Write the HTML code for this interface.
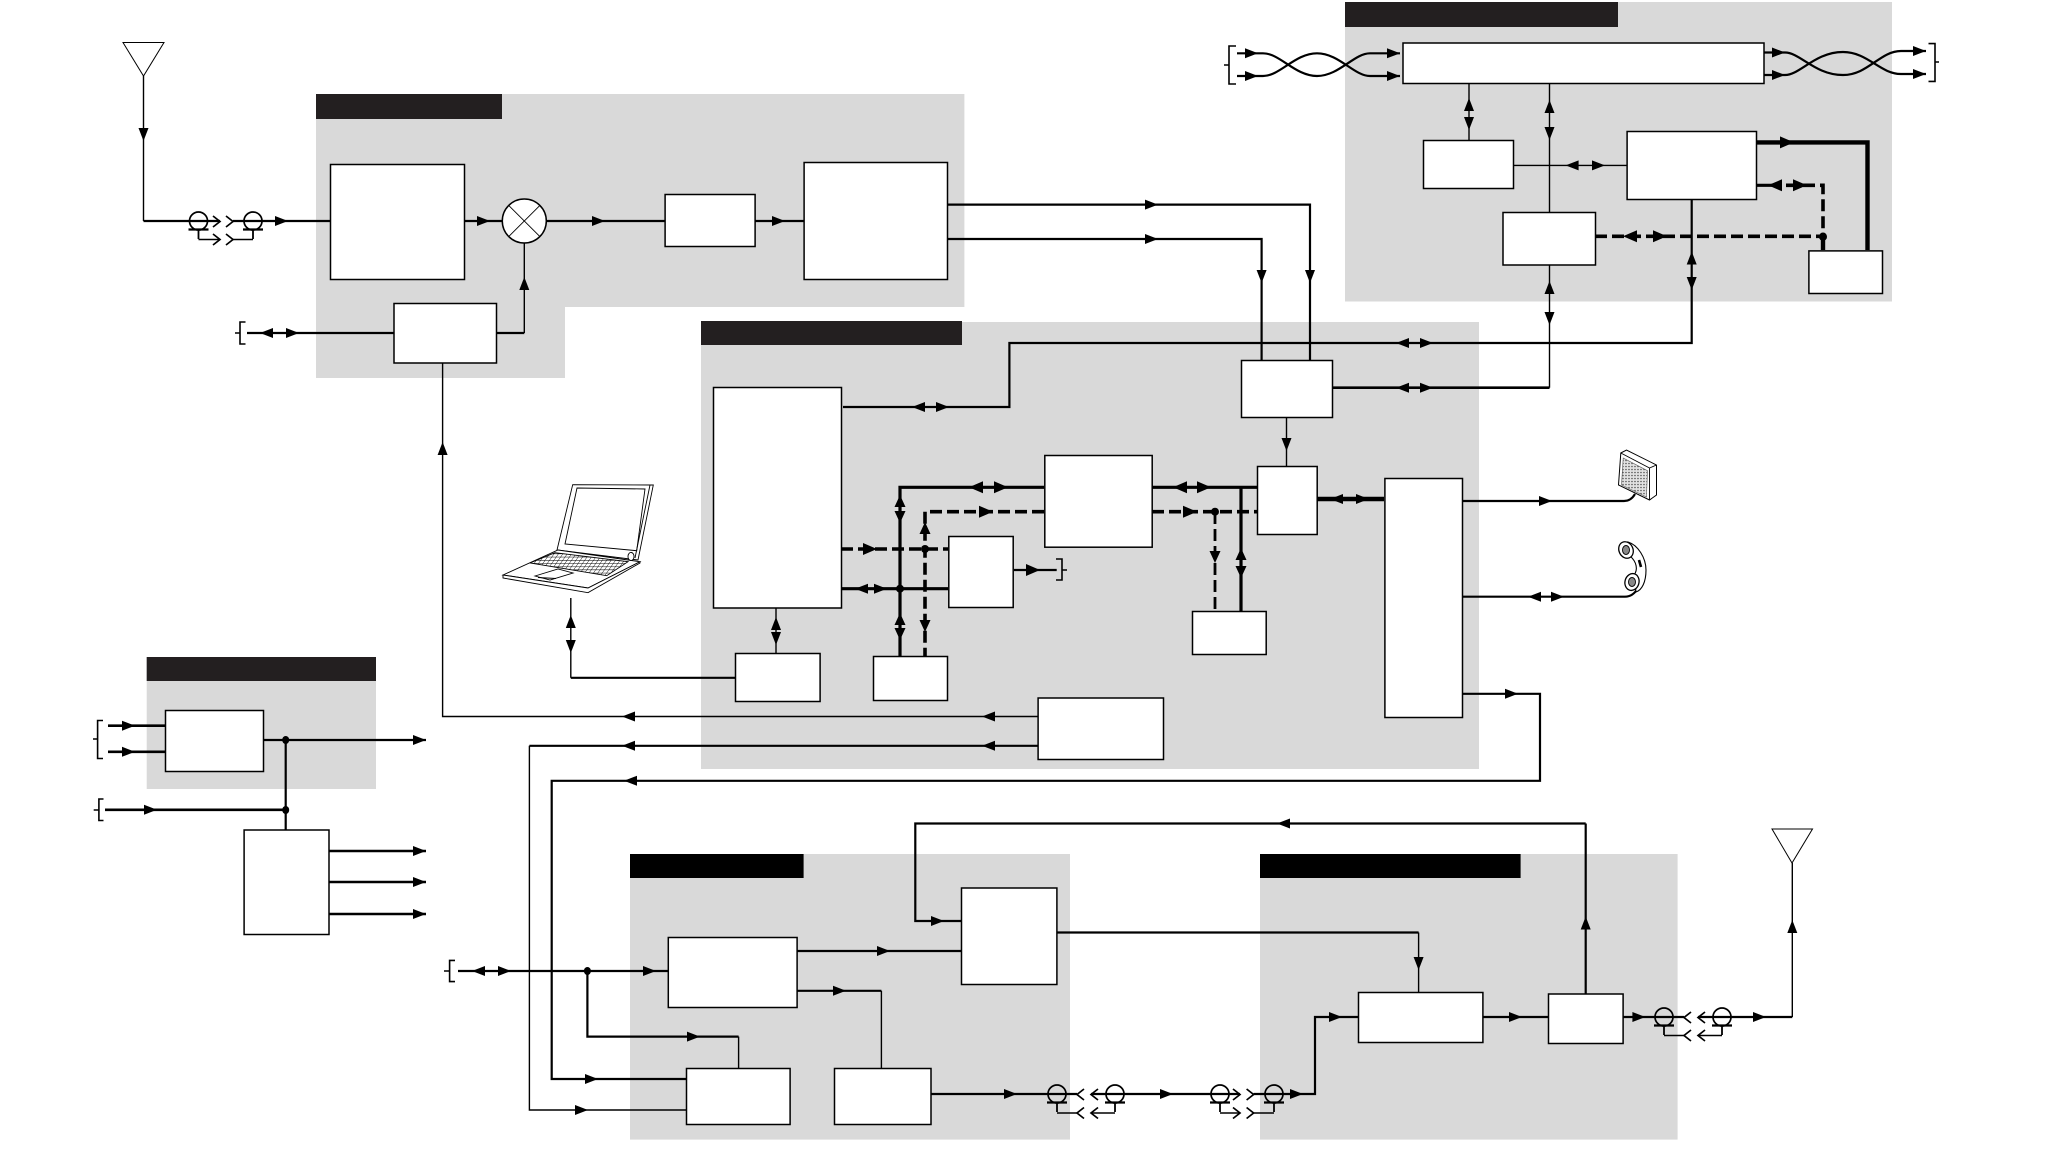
<!DOCTYPE html>
<html>
<head>
<meta charset="utf-8">
<title>Block diagram</title>
<style>
html,body{margin:0;padding:0;background:#fff}
svg{display:block}
.b{fill:#fff;stroke:#000;stroke-width:1.5;transform:translate(.5px,.5px)}
.t{fill:none;stroke:#000;stroke-width:1.4}
.m{fill:none;stroke:#000;stroke-width:2.2}
.q{fill:none;stroke:#000;stroke-width:2.6}
.k{fill:none;stroke:#000;stroke-width:3.2}
.x{fill:none;stroke:#000;stroke-width:4.4}
.d{fill:none;stroke:#000;stroke-width:3.6;stroke-dasharray:12 5}
.n{fill:none;stroke:#000;stroke-width:.9}
.c{fill:none;stroke:#000;stroke-width:1.6}
</style>
</head>
<body>
<svg xmlns="http://www.w3.org/2000/svg" width="2052" height="1163" viewBox="0 0 2052 1163">
<defs>
<polygon id="r" points="-13,-5 0,0 -13,5"/>
<polygon id="l" points="13,-5 0,0 13,5"/>
<polygon id="u" points="-5,13 0,0 5,13"/>
<polygon id="d" points="-5,-13 0,0 5,-13"/>
<polygon id="rb" points="-14,-6 0,0 -14,6"/>
<polygon id="lb" points="14,-6 0,0 14,6"/>
<polygon id="ub" points="-5.5,12 0,0 5.5,12"/>
<polygon id="db" points="-5.5,-12 0,0 5.5,-12"/>
<g id="cq"><circle r="9" fill="none" stroke="#000" stroke-width="1.7"/><path d="M-10,8.5H10" stroke="#000" stroke-width="2.2" fill="none"/><path d="M0,8.5V18" stroke="#000" stroke-width="1.8" fill="none"/></g>
<path id="cg" d="M-7,-5.5L0,0L-7,5.5" fill="none" stroke="#000" stroke-width="1.7"/>
<path id="cv" d="M7,-5.5L0,0L7,5.5" fill="none" stroke="#000" stroke-width="1.7"/>
<pattern id="dots" width="3" height="3" patternUnits="userSpaceOnUse"><rect width="3" height="3" fill="#e2e2e2"/><circle cx="1.5" cy="1.5" r=".8" fill="#555"/></pattern>
<pattern id="keys" width="4.4" height="3.2" patternUnits="userSpaceOnUse" patternTransform="skewX(-35)"><rect width="4.4" height="3.2" fill="#fff"/><path d="M0,0H4.4M0,0V3.2" stroke="#000" stroke-width="1"/></pattern>
</defs>

<!-- regions -->
<path d="M316,94H964.4V307H565V378H316Z" fill="#d9d9d9"/>
<rect x="701" y="322" width="778" height="447" fill="#d9d9d9"/>
<rect x="1345" y="2" width="547" height="299.5" fill="#d9d9d9"/>
<rect x="146.7" y="657" width="229.3" height="132" fill="#d9d9d9"/>
<rect x="630" y="854" width="440" height="285.6" fill="#d9d9d9"/>
<rect x="1260" y="854" width="417.6" height="285.6" fill="#d9d9d9"/>
<!-- title bars -->
<rect x="316" y="94" width="186" height="25" fill="#231f20"/>
<rect x="701" y="321" width="261" height="24" fill="#231f20"/>
<rect x="1345" y="2" width="273" height="25" fill="#231f20"/>
<rect x="146.7" y="657" width="229.3" height="24" fill="#231f20"/>
<rect x="630" y="854" width="173.6" height="24" fill="#000"/>
<rect x="1260" y="854" width="260.6" height="24" fill="#000"/>

<!-- antenna 1 -->
<polygon points="123,42.5 164,42.5 143.5,76" fill="#fff" stroke="#000" stroke-width="1"/>
<path class="t" d="M143.5,76V221"/>
<use href="#d" x="143.5" y="141"/>
<path class="m" d="M143.5,221H220M233,221H331"/>
<use href="#cq" x="198.5" y="221"/><use href="#cq" x="253" y="221"/>
<use href="#cg" x="220" y="221.5"/><use href="#cg" x="233" y="221.5"/>
<use href="#cg" x="220" y="239.5"/><use href="#cg" x="233" y="239.5"/>
<path class="c" d="M198.5,239.5H220M233,239.5H253"/>
<use href="#r" x="288" y="221"/>

<!-- region 1 -->
<path class="m" d="M464,221H502"/><use href="#r" x="490" y="221"/>
<path class="m" d="M546,221H665"/><use href="#r" x="605" y="221"/>
<path class="m" d="M754,221H804"/><use href="#r" x="785" y="221"/>
<circle cx="524.3" cy="221" r="22" class="b" style="transform:none"/>
<path class="n" d="M508.7,205.4L539.9,236.6M539.9,205.4L508.7,236.6"/>
<path class="m" d="M496,333H524.3"/><path class="t" d="M524.3,333V243"/><use href="#u" x="524.3" y="277"/>
<path class="m" d="M247,333H394"/>
<use href="#l" x="260" y="333"/><use href="#r" x="299" y="333"/>
<path class="c" d="M245.5,322H240V344H245.5M240,333H235"/>
<path class="t" d="M442.6,362V716.5H1038"/><use href="#u" x="442.6" y="442"/>
<use href="#l" x="622" y="716.5"/><use href="#l" x="982" y="716.5"/>
<path class="m" d="M947,204.6H1310V360"/><path class="m" d="M947,239H1261.6V360"/>
<use href="#r" x="1158" y="204.6"/><use href="#r" x="1158" y="239"/>
<use href="#d" x="1261.6" y="283"/><use href="#d" x="1310" y="283"/>
<rect class="b" x="330" y="164" width="134" height="115"/>
<rect class="b" x="664.6" y="194" width="90" height="52"/>
<rect class="b" x="803.6" y="162" width="143.4" height="117"/>
<rect class="b" x="393.5" y="303" width="102.5" height="59.5"/>

<!-- region 3 top -->
<path class="c" d="M1236,46H1229V84H1236M1229,65H1224"/>
<path class="m" d="M1237,53.3H1263C1280,53.3 1295,76 1317,76C1339,76 1354,53.3 1370,53.3H1400"/>
<path class="m" d="M1237,76H1263C1280,76 1295,53.3 1317,53.3C1339,53.3 1354,76 1370,76H1400"/>
<use href="#r" x="1258" y="53.3"/><use href="#r" x="1258" y="76"/>
<use href="#r" x="1400" y="53.3"/><use href="#r" x="1400" y="76"/>
<path class="m" d="M1763.5,52.5H1785C1800,52.5 1815,75 1843,75C1868,75 1880,51 1901,51H1926"/>
<path class="m" d="M1763.5,75H1785C1800,75 1815,52 1843,52C1868,52 1880,74 1901,74H1926"/>
<use href="#r" x="1785" y="52.5"/><use href="#r" x="1785" y="75"/>
<use href="#r" x="1926" y="51"/><use href="#r" x="1926" y="74"/>
<path class="c" d="M1928.5,43.6H1935V81.4H1928.5M1935,62H1939"/>

<path class="t" d="M1469,83V140"/><use href="#u" x="1469" y="98"/><use href="#d" x="1469" y="130"/>
<path class="t" d="M1549.5,83V212"/><use href="#u" x="1549.5" y="100"/><use href="#d" x="1549.5" y="140"/>
<path class="t" d="M1513,165.4H1627"/><use href="#l" x="1565.6" y="165.4"/><use href="#r" x="1605" y="165.4"/>
<path class="x" d="M1756,142.4H1867.5V250"/><use href="#rb" x="1794" y="142.4"/>
<path class="k" d="M1756,185.3H1780"/>
<path class="d" d="M1786,185.3H1823V236"/>
<use href="#lb" x="1768" y="185.3"/><use href="#rb" x="1807" y="185.3"/>
<path class="d" d="M1595,236.3H1823"/>
<use href="#lb" x="1623" y="236.3"/><use href="#rb" x="1667" y="236.3"/>
<path class="x" d="M1823,237V250"/><ellipse cx="1823" cy="236.7" rx="4" ry="4.2" fill="#000"/>
<path class="m" d="M1691.7,199V343H1009.4V407H843"/>
<use href="#u" x="1691.7" y="251.5"/><use href="#d" x="1691.7" y="290"/>
<use href="#l" x="1396" y="343"/><use href="#r" x="1433" y="343"/>
<use href="#l" x="912" y="407"/><use href="#r" x="949" y="407"/>
<path class="t" d="M1549.5,264.5V387.7"/>
<path class="q" d="M1332,387.7H1549.5"/>
<use href="#u" x="1549.5" y="281"/><use href="#d" x="1549.5" y="325"/>
<use href="#l" x="1396" y="387.7"/><use href="#r" x="1433" y="387.7"/>
<rect class="b" x="1402.5" y="42.5" width="361" height="40.5"/>
<rect class="b" x="1423" y="140" width="90" height="48"/>
<rect class="b" x="1502.5" y="212" width="92.5" height="52.5"/>
<rect class="b" x="1626.6" y="131" width="129.4" height="68"/>
<rect class="b" x="1808.4" y="250.4" width="73.6" height="42.6"/>

<!-- region 2 -->
<path class="k" d="M1044,487.3H900V656"/>
<use href="#lb" x="969" y="487.3"/><use href="#rb" x="1008" y="487.3"/>
<use href="#ub" x="900" y="495"/><use href="#db" x="900" y="523"/>
<use href="#ub" x="900" y="613"/><use href="#db" x="900" y="640"/>
<path class="d" d="M1044,511.7H925V656"/>
<use href="#rb" x="993" y="511.7"/><use href="#ub" x="925" y="522"/><use href="#db" x="925" y="632"/>
<path class="d" d="M841,549H948"/><use href="#rb" x="877" y="549"/>
<circle cx="925" cy="549" r="4" fill="#000"/>
<path class="k" d="M841,588.7H948"/>
<use href="#l" x="855" y="588.7"/><use href="#r" x="887" y="588.7"/>
<circle cx="900" cy="588.7" r="4" fill="#000"/>
<path class="m" d="M1014,570H1056.7"/><use href="#rb" x="1040" y="570"/>
<path class="c" d="M1056,559H1062V580H1056M1062,570H1067"/>
<path class="k" d="M1152,487.3H1257M1241,487.3V611"/>
<use href="#lb" x="1173" y="487.3"/><use href="#rb" x="1211" y="487.3"/>
<use href="#ub" x="1241" y="548"/><use href="#db" x="1241" y="578"/>
<path class="d" d="M1152,511.7H1257"/><use href="#rb" x="1197" y="511.7"/>
<circle cx="1215" cy="511.7" r="4" fill="#000"/>
<path class="d" d="M1215,512V611" style="stroke-width:2.8"/><use href="#db" x="1215" y="563"/>
<path class="t" d="M1286.5,417V466"/><use href="#d" x="1286.5" y="451"/>
<path class="x" d="M1317,499H1384"/><use href="#l" x="1330" y="499"/><use href="#r" x="1369" y="499"/>
<path class="m" d="M1462,501H1624Q1631,501 1635,494"/><use href="#r" x="1552" y="501"/>
<path class="m" d="M1462,596.7H1625Q1633,596.7 1638,588"/>
<use href="#l" x="1528" y="596.7"/><use href="#r" x="1564" y="596.7"/>
<path class="t" d="M776,607.5V653"/><use href="#u" x="776" y="617"/><use href="#d" x="776" y="645"/>
<path class="m" d="M735,677.8H570.8"/><path class="t" d="M570.8,677.8V598"/>
<use href="#u" x="570.8" y="615"/><use href="#d" x="570.8" y="653"/>
<path class="m" d="M1038,745.8H529.4"/><path class="t" d="M529.4,745.8V1110H686"/>
<use href="#l" x="622" y="745.8"/><use href="#l" x="982" y="745.8"/>
<use href="#r" x="588" y="1110"/>
<path class="m" d="M1462,693.8H1540V780.8H551.7V1079H686"/>
<use href="#r" x="1518" y="693.8"/><use href="#l" x="624" y="780.8"/><use href="#r" x="598" y="1079"/>
<rect class="b" x="713" y="387" width="128" height="220.5"/>
<rect class="b" x="948.3" y="536" width="64.4" height="71"/>
<rect class="b" x="1044.3" y="455" width="107.4" height="91.7"/>
<rect class="b" x="873" y="656" width="74" height="44"/>
<rect class="b" x="735" y="653" width="84.6" height="48"/>
<rect class="b" x="1192" y="611" width="73.7" height="43"/>
<rect class="b" x="1257" y="466" width="59.7" height="68"/>
<rect class="b" x="1384.4" y="478" width="77.6" height="239"/>
<rect class="b" x="1037.6" y="697.5" width="125.4" height="61.5"/>
<rect class="b" x="1241" y="360" width="91" height="57"/>

<!-- speaker -->
<g transform="translate(1.5,0)">
<polygon points="1619.3,453 1625,450 1655,465 1655,495 1648,500 1617,485" fill="#fff" stroke="#000" stroke-width="1"/>
<polygon points="1621.7,458 1646,470.7 1645,497 1620,485" fill="url(#dots)" stroke="#555" stroke-width=".6"/>
<path class="n" d="M1619.3,453L1648,468L1648,500M1648,468L1655,465"/>
</g>
<!-- handset -->
<path d="M1628,542C1638,545 1646,558 1646,570C1646,582 1642,590 1636,592L1634,575C1638,570 1637,562 1630,556Z" fill="#fff" stroke="#000" stroke-width="1.1"/>
<path d="M1639,560L1641,567" stroke="#000" stroke-width="2.6" fill="none"/>
<ellipse cx="1626" cy="550" rx="7" ry="8.5" fill="#fff" stroke="#000" stroke-width="1.3" transform="rotate(-25 1626 550)"/>
<ellipse cx="1626" cy="550" rx="3.5" ry="4.5" fill="#888" stroke="#000" stroke-width=".9"/>
<ellipse cx="1632" cy="582" rx="7" ry="8.5" fill="#fff" stroke="#000" stroke-width="1.3" transform="rotate(15 1632 582)"/>
<ellipse cx="1632" cy="582" rx="3.5" ry="4.5" fill="#888" stroke="#000" stroke-width=".9"/>
<!-- laptop -->
<g fill="#fff" stroke="#000" stroke-width=".9">
<polygon points="572.7,484.7 653.3,485 638,560 557,550"/>
<polygon points="577,488 645,489 636.7,550.7 565,544"/>
<path d="M650,485L635,558" fill="none"/>
<polygon points="503,575 558,550 640,561.7 588,588"/>
<polygon points="503,575 588,588 640,561.7 640,563 588,592.7 503,578"/>
<polygon points="530,563 555,552.7 628,561.7 606.7,575.7" fill="url(#keys)"/>
<polygon points="535,576 558,569 573,573 550,580"/>
<path d="M538,577.5L556,578.5" fill="none"/>
<path d="M628,556a3,4 0 1,0 6,1a3,4 0 1,0 -6,-1" fill="#fff"/>
</g>

<!-- region 4 -->
<path class="q" d="M108,725.7H165M108,751.8H165"/>
<use href="#r" x="135" y="725.7"/><use href="#r" x="135" y="751.8"/>
<path class="c" d="M103,720.5H97.6V758.5H103M97.6,739H93"/>
<path class="m" d="M263,740H426"/><use href="#r" x="426" y="740"/>
<path class="m" d="M285.7,740V829.5"/>
<ellipse cx="285.7" cy="740" rx="3.5" ry="4" fill="#000"/>
<path class="q" d="M105,809.8H285.7"/><use href="#r" x="157" y="809.8"/>
<ellipse cx="285.7" cy="810" rx="3.5" ry="4" fill="#000"/>
<path class="c" d="M103.5,799H98.9V820.5H103.5M98.9,810H93.7"/>
<path class="q" d="M328.5,851H426M328.5,882H426M328.5,914H426"/>
<use href="#r" x="426" y="851"/><use href="#r" x="426" y="882"/><use href="#r" x="426" y="914"/>
<rect class="b" x="165" y="710" width="98" height="61"/>
<rect class="b" x="243.6" y="829.5" width="84.9" height="104.5"/>

<!-- region 5 -->
<path class="c" d="M455,960.4H449.6V981.6H455M449.6,971H444"/>
<path class="m" d="M458,971H668"/>
<use href="#l" x="472" y="971"/><use href="#r" x="511" y="971"/><use href="#r" x="656" y="971"/>
<ellipse cx="587.4" cy="971" rx="3.5" ry="4" fill="#000"/>
<path class="m" d="M587.4,971V1036.6H738.6"/><path class="t" d="M738.6,1036.6V1068"/>
<use href="#r" x="700" y="1036.6"/>
<path class="m" d="M796.6,951H961"/><use href="#r" x="890" y="951"/>
<path class="m" d="M796.6,990.8H881.4"/><path class="t" d="M881.4,990.8V1068"/><use href="#r" x="846" y="990.8"/>
<path class="m" d="M1585.7,823.5H915.3V921H961"/><use href="#l" x="1277" y="823.5"/><use href="#r" x="944" y="921"/>
<path class="m" d="M1056.4,932.5H1418.6"/><path class="t" d="M1418.6,932.5V992"/><use href="#d" x="1418.6" y="970"/>
<rect class="b" x="667.8" y="937" width="128.8" height="70"/>
<rect class="b" x="961" y="887.5" width="95.4" height="96.5"/>
<rect class="b" x="686" y="1068" width="103.6" height="56"/>
<rect class="b" x="834" y="1068" width="96.5" height="56"/>

<!-- lower right connectors -->
<path class="m" d="M930.5,1094H1077M1091,1094H1240"/>
<path class="m" d="M1253.6,1094H1315V1017H1358"/>
<use href="#r" x="1017" y="1094"/><use href="#r" x="1173" y="1094"/>
<use href="#r" x="1303" y="1094"/><use href="#r" x="1342" y="1017"/>
<use href="#cq" x="1057" y="1094"/><use href="#cq" x="1115" y="1094"/>
<use href="#cv" x="1077" y="1094.5"/><use href="#cv" x="1091" y="1094.5"/>
<use href="#cv" x="1077" y="1113"/><use href="#cv" x="1091" y="1113"/>
<path class="c" d="M1057,1113H1077M1091,1113H1115"/>
<use href="#cq" x="1220" y="1094"/><use href="#cq" x="1274" y="1094"/>
<use href="#cg" x="1240" y="1094.5"/><use href="#cg" x="1253.6" y="1094.5"/>
<use href="#cg" x="1240" y="1113"/><use href="#cg" x="1253.6" y="1113"/>
<path class="c" d="M1220,1113H1240M1253.6,1113H1274"/>

<!-- region 6 -->
<path class="m" d="M1482.4,1017H1548"/><use href="#r" x="1522" y="1017"/>
<path class="m" d="M1585.7,993.5V823.5"/><use href="#u" x="1585.7" y="916.5"/>
<path class="m" d="M1622.6,1017H1684M1698,1017H1792.3"/>
<use href="#r" x="1645.4" y="1017"/><use href="#r" x="1766" y="1017"/>
<use href="#cq" x="1664" y="1017"/><use href="#cq" x="1722" y="1017"/>
<use href="#cv" x="1684" y="1017.5"/><use href="#cv" x="1698" y="1017.5"/>
<use href="#cv" x="1684" y="1035.5"/><use href="#cv" x="1698" y="1035.5"/>
<path class="c" d="M1664,1035.5H1684M1698,1035.5H1722"/>
<path class="t" d="M1792.3,1017V863"/><use href="#u" x="1792.3" y="920"/>
<polygon points="1772,829 1812.5,829 1792,863" fill="#fff" stroke="#000" stroke-width="1"/>
<rect class="b" x="1358" y="992" width="124.4" height="50"/>
<rect class="b" x="1548" y="993.5" width="74.6" height="49.5"/>
</svg>
</body>
</html>
